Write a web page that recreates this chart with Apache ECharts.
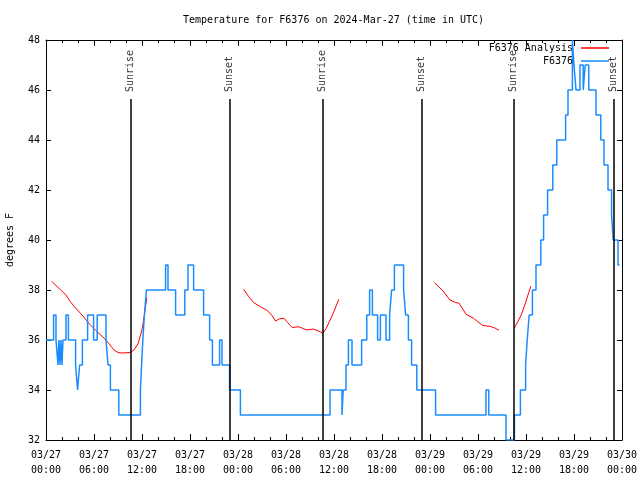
<!DOCTYPE html>
<html><head><meta charset="utf-8">
<script src="https://cdn.jsdelivr.net/npm/echarts@6/dist/echarts.min.js"></script>
<style>html,body{margin:0;padding:0;background:#fff}#c{width:640px;height:480px}</style>
</head><body><div id="c"></div>
<script>
// ---- data ----
const titleText = 'Temperature for F6376 on 2024-Mar-27 (time in UTC)';
const xTickLabels = ['03/27\n00:00','03/27\n06:00','03/27\n12:00','03/27\n18:00','03/28\n00:00','03/28\n06:00','03/28\n12:00','03/28\n18:00','03/29\n00:00','03/29\n06:00','03/29\n12:00','03/29\n18:00','03/30\n00:00'];
// hours since 03/27 00:00 UTC ; observed temperature (°F), each value held until next time
const obsHours = [0,0.95,1.25,1.5,1.62,1.75,1.87,2.0,2.12,2.5,2.8,3.7,3.95,4.2,4.55,5.2,5.95,6.4,7.5,7.75,8.05,9.1,11.8,11.95,12.1,12.3,12.55,14.95,15.25,16.2,17.35,17.75,18.45,19.7,20.45,20.8,21.7,22.0,22.95,24.3,35.5,37.0,37.15,37.5,37.8,38.25,39.45,40.1,40.45,40.8,41.45,41.8,42.5,42.95,43.2,43.55,44.7,44.95,45.3,45.7,46.35,48.7,55.0,55.35,57.5,58.55,59.3,59.95,60.15,60.4,60.8,61.25,61.85,62.2,62.7,63.35,63.85,64.95,65.25,65.8,66.0,66.25,66.75,67.15,67.4,67.85,68.75,69.35,69.75,70.25,70.7,70.9,71.5,71.7];
const obsTemps = [36,37,36,35,36,35,36,35,36,37,36,35,34,35,36,37,36,37,36,35,34,33,34,35,36,37,38,39,38,37,38,39,38,37,36,35,36,35,34,33,34,33,34,35,36,35,36,37,38,37,36,37,36,37,38,39,38,37,36,35,34,33,34,33,32,33,34,35,36,37,38,39,40,41,42,43,44,45,46,48,47,46,47,46,47,46,45,44,43,42,41,40,39,39];
// analysis (null = gap)
const anaHours = [0.7,1.5,2.5,3.0,3.5,4.5,5.5,6.5,7.5,8.0,8.5,9.0,9.5,10.5,11.0,11.5,12.0,12.3,12.6,null,
  24.7,25.3,25.95,26.8,27.7,28.2,28.7,29.2,29.75,30.2,30.75,31.6,32.6,33.4,34.0,34.6,35.0,35.45,36.0,36.6,null,
  48.55,49.6,50.5,51.2,51.65,52.5,53.4,53.9,54.6,55.6,56.1,56.6,null,
  58.5,59.0,59.4,59.9,60.35,60.6];
const anaTemps = [38.35,38.1,37.8,37.55,37.35,37.0,36.62,36.3,36.0,35.8,35.6,35.5,35.48,35.5,35.6,35.85,36.4,37.0,37.7,null,
  38.03,37.75,37.5,37.33,37.17,37.0,36.76,36.85,36.87,36.7,36.5,36.53,36.4,36.44,36.37,36.27,36.45,36.75,37.15,37.63,null,
  38.3,37.97,37.6,37.5,37.47,37.03,36.88,36.75,36.58,36.54,36.48,36.39,null,
  36.45,36.75,37.0,37.45,37.9,38.15];
const sunHours = [10.58,22.95,34.58,46.95,58.45,70.95];
const sunNames = ['Sunrise','Sunset','Sunrise','Sunset','Sunrise','Sunset'];
const yMin = 32, yMax = 48, yStep = 2;
const sunLineTop = 45.64, sunLabelBase = 45.92;

// ---- chart ----
const FONT = 'DejaVu Sans Mono';
const obsData = obsHours.map((h,i)=>[h,obsTemps[i]]);
const anaData = anaHours.map((h,i)=> h===null ? [null,null] : [h,anaTemps[i]]);
const sunLabelData = sunHours.map((h,i)=>({value:[h,sunLabelBase], name:sunNames[i]}));
const sunLines = sunHours.map(h=>[{coord:[h,yMin]},{coord:[h,sunLineTop]}]);

const txt = {color:'#000', fontFamily:FONT, fontSize:10};
const baseX = {type:'value', min:0, max:72, interval:6, splitLine:{show:false},
  axisLine:{show:true, onZero:false, lineStyle:{color:'#000',width:1}},
  axisTick:{show:true, inside:true, length:6, lineStyle:{color:'#000'}},
  minorTick:{show:true, splitNumber:3, length:3, lineStyle:{color:'#000'}}};
const baseY = {type:'value', min:yMin, max:yMax, interval:yStep, splitLine:{show:false},
  axisLine:{show:true, onZero:false, lineStyle:{color:'#000',width:1}},
  axisTick:{show:true, inside:true, length:5, lineStyle:{color:'#000'}}};

const legendBase = {right:31, padding:0, align:'right', icon:'rect', itemWidth:28, itemHeight:1.5, itemGap:0,
  textStyle:Object.assign({padding:[0,3,0,0]},txt), selectedMode:false};

const chart = echarts.init(document.getElementById('c'), null, {renderer:'canvas'});
chart.setOption({
  animation:false,
  backgroundColor:'#fff',
  title:{text:titleText, left:183, top:15, padding:0, textStyle:Object.assign({fontWeight:'normal'},txt)},
  grid:{left:46, right:18, top:40, bottom:40, containLabel:false, outerBoundsMode:'none'},
  legend:[
    Object.assign({data:['F6376 Analysis'], top:43}, legendBase),
    Object.assign({data:['F6376'], top:56}, legendBase)
  ],
  xAxis:[
    Object.assign({}, baseX, {position:'bottom', axisLabel:Object.assign({formatter:v=>xTickLabels[Math.round(v/6)], lineHeight:15, margin:8}, txt)}),
    Object.assign({}, baseX, {position:'top', axisLabel:{show:false}})
  ],
  yAxis:[
    Object.assign({}, baseY, {position:'left', name:'degrees F', nameLocation:'middle', nameGap:31, nameRotate:90, nameTextStyle:txt, axisLabel:Object.assign({margin:6}, txt)}),
    Object.assign({}, baseY, {position:'right', axisLabel:{show:false}})
  ],
  series:[
    {name:'F6376 Analysis', type:'line', data:anaData, connectNulls:false, showSymbol:false, symbol:'none',
     lineStyle:{color:'#ff0000', width:1}, itemStyle:{color:'#ff0000'}, z:2},
    {name:'F6376', type:'line', data:obsData, step:'end', showSymbol:false, symbol:'none',
     lineStyle:{color:'#1a8cff', width:1.5}, itemStyle:{color:'#1a8cff'}, z:3},
    {name:'sun', type:'scatter', data:sunLabelData, symbolSize:0, z:4, silent:true,
     label:{show:true, formatter:p=>p.name, position:'inside', rotate:90, align:'left', verticalAlign:'middle', color:'#000', fontFamily:FONT, fontSize:10},
     markLine:{silent:true, symbol:['none','none'], label:{show:false}, lineStyle:{color:'#000', width:1.5, type:'solid'}, data:sunLines}}
  ]
});
</script></body></html>
